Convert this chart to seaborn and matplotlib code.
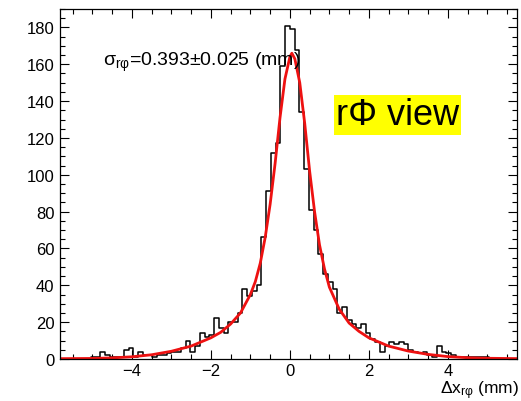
import pandas as pd
import matplotlib
matplotlib.use("Agg")
import matplotlib.pyplot as plt
from matplotlib.ticker import MultipleLocator
import seaborn as sns

# residual histogram, 0.12 mm bins from -5.04 to 5.04
bin_lo, bin_hi, bin_w = -5.04, 5.04, 0.12
counts = [1, 1, 4, 2, 1, 1, 1, 5, 6, 1,
          4, 2, 2, 1, 2, 2, 3, 4, 4, 6,
          10, 4, 7, 14, 12, 13, 22, 17, 14, 20,
          20, 25, 38, 34, 37, 40, 66, 91, 112, 117,
          159, 181, 179, 168, 134, 103, 81, 70, 57, 46,
          42, 38, 25, 28, 21, 19, 17, 19, 14, 11,
          9, 4, 7, 9, 8, 9, 8, 5, 4, 3,
          4, 2, 1, 7, 4, 3, 2, 1, 1, 1,
          1, 1, 1, 1]

# fit curve, values
fit_x = [-5.8, -5.0, -4.5, -4.0, -3.5, -3.0, -2.5, -2.0, -1.75, -1.5,
         -1.25, -1.0, -0.875, -0.75, -0.625, -0.5, -0.375, -0.25, -0.125, 0.0,
         0.05, 0.125, 0.25, 0.375, 0.5, 0.625, 0.75, 0.875, 1.0, 1.25,
         1.5, 1.75, 2.0, 2.5, 3.0, 3.5, 4.0, 4.5, 5.0, 5.8]
fit_y = [0.2, 0.3, 0.6, 1.2, 2.3, 4.2, 7.0, 11.5, 14.5, 19.0,
         25.0, 35.0, 42.0, 52.0, 66.0, 84.0, 106.0, 131.0, 152.0, 164.0,
         166.0, 163.0, 150.0, 128.0, 102.0, 80.0, 62.0, 49.0, 39.0, 27.0,
         19.5, 15.0, 11.5, 7.0, 4.3, 2.5, 1.3, 0.7, 0.4, 0.2]

sigma_text = "σ$_{\\mathregular{rφ}}$=0.393±0.025 (mm)"
view_text = "rΦ view"
xlabel = "Δx$_{\\mathregular{rφ}}$ (mm)"

sns.set_style("ticks")
plt.rcParams['font.family'] = ['Liberation Sans', 'DejaVu Sans']
plt.rcParams['mathtext.fontset'] = 'custom'
plt.rcParams['mathtext.rm'] = 'Liberation Sans'
plt.rcParams['mathtext.it'] = 'Liberation Sans:italic'
for k in ['text.color', 'xtick.color', 'ytick.color', 'axes.edgecolor', 'axes.labelcolor']:
    plt.rcParams[k] = 'black'

edges = [bin_lo + i * bin_w for i in range(len(counts) + 1)]
hist = pd.DataFrame({'dx': [(a + b) / 2 for a, b in zip(edges[:-1], edges[1:])],
                     'n': counts})
fit = pd.DataFrame({'x': fit_x, 'y': fit_y})

fig = plt.figure(figsize=(5.21, 4.02), dpi=100)
ax = fig.add_axes([60 / 521, 1 - 360 / 402, 457 / 521, 350 / 402])

sns.histplot(data=hist, x='dx', weights='n', bins=edges, element='step', fill=False,
             color='black', linewidth=1.1, ax=ax)
sns.lineplot(data=fit, x='x', y='y', color='#ee1111', linewidth=2.0, ax=ax)

ax.set_xlim(-5.82, 5.75)
ax.set_ylim(0, 190)
ax.set_xlabel('')
ax.set_ylabel('')

ax.xaxis.set_major_locator(MultipleLocator(2))
ax.xaxis.set_minor_locator(MultipleLocator(0.5))
ax.yaxis.set_major_locator(MultipleLocator(20))
ax.yaxis.set_minor_locator(MultipleLocator(5))
ax.tick_params(which='both', direction='in', top=True, right=True, labelsize=12, width=0.8)
ax.tick_params(which='major', length=6.5)
ax.tick_params(which='minor', length=3.6)
ax.tick_params(axis='x', pad=3)
ax.tick_params(axis='y', pad=4)
for s in ax.spines.values():
    s.set_linewidth(0.9)

ax.text(-4.73, 161.5, sigma_text, fontsize=14, ha='left', va='center')
ax.text(2.73, 132.5, view_text, fontsize=26, ha='center', va='center',
        bbox=dict(facecolor='yellow', edgecolor='none', pad=1.5))
fig.text(519 / 521, 8 / 402, xlabel, fontsize=12.5, ha='right', va='baseline')

fig.savefig('out.png', dpi=100)
